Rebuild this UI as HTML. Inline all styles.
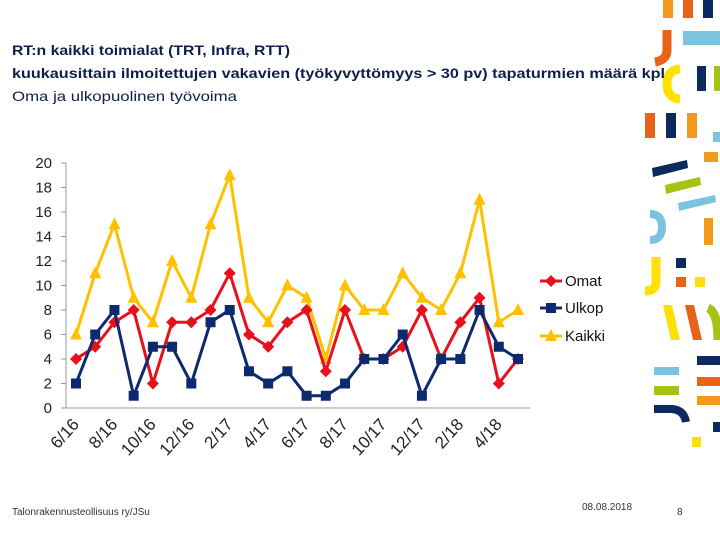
<!DOCTYPE html>
<html><head><meta charset="utf-8"><style>
body{margin:0;width:720px;height:540px;overflow:hidden;background:#fff;font-family:"Liberation Sans",sans-serif}
</style></head><body>
<svg width="720" height="540" xmlns="http://www.w3.org/2000/svg">
<g>
<rect x="663" y="0" width="10" height="18" fill="#f39a1e"/><rect x="683" y="0" width="10" height="18" fill="#e8631a"/><rect x="703" y="0" width="10" height="18" fill="#0d2a5e"/>
<path d="M667 30 L667 50 Q667 60 655 62" stroke="#e8631a" stroke-width="9" fill="none"/>
<rect x="683" y="31" width="37" height="14" fill="#7cc3e0"/>
<path d="M680 69 Q667 70 667 84 Q667 98 680 99" stroke="#ffe000" stroke-width="9" fill="none"/>
<rect x="697" y="66" width="9" height="25" fill="#0d2a5e"/><rect x="714" y="66" width="6" height="25" fill="#a5c312"/>
<rect x="645" y="113" width="10" height="25" fill="#e8631a"/><rect x="666" y="113" width="10" height="25" fill="#0d2a5e"/><rect x="687" y="113" width="10" height="25" fill="#f39a1e"/><rect x="713" y="132" width="7" height="10" fill="#7cc3e0"/>
<rect x="704" y="152" width="14" height="10" fill="#f39a1e"/>
<polygon points="652,168 687,160 688,168 653,177" fill="#0d2a5e"/>
<polygon points="665,185 700,177 701,185 666,194" fill="#a5c312"/>
<polygon points="678,203 715,195 716,202 679,211" fill="#7cc3e0"/>
<path d="M650 214 Q662 214 662 227 Q662 240 650 240" stroke="#7cc3e0" stroke-width="8" fill="none"/>
<rect x="704" y="218" width="9" height="27" fill="#f39a1e"/>
<path d="M656 257 L656 282 Q656 291 645 291" stroke="#ffe000" stroke-width="9" fill="none"/>
<rect x="676" y="258" width="10" height="10" fill="#0d2a5e"/><rect x="676" y="277" width="10" height="10" fill="#e8631a"/><rect x="695" y="277" width="10" height="10" fill="#ffe000"/>
<polygon points="663,305 672,305 680,340 671,340" fill="#ffe000"/><polygon points="685,305 694,305 702,340 693,340" fill="#e8631a"/>
<path d="M708 308 Q718 312 718 340" stroke="#a5c312" stroke-width="9" fill="none"/>
<rect x="697" y="356" width="23" height="9" fill="#0d2a5e"/><rect x="697" y="377" width="23" height="9" fill="#e8631a"/><rect x="697" y="396" width="23" height="9" fill="#f39a1e"/>
<rect x="654" y="367" width="25" height="8" fill="#7cc3e0"/><rect x="654" y="386" width="25" height="9" fill="#a5c312"/>
<path d="M654 409 L672 409 Q684 410 686 422" stroke="#0d2a5e" stroke-width="8" fill="none"/>
<rect x="713" y="422" width="7" height="10" fill="#0d2a5e"/><rect x="692" y="437" width="9" height="10" fill="#ffe000"/>
</g>
<g fill="#0d1f4a" font-size="14">
<text x="12" y="55" font-weight="bold" textLength="278" lengthAdjust="spacingAndGlyphs">RT:n kaikki toimialat (TRT, Infra, RTT)</text>
<text x="12" y="78" font-weight="bold" textLength="653" lengthAdjust="spacingAndGlyphs">kuukausittain ilmoitettujen vakavien  (työkyvyttömyys  &gt; 30 pv) tapaturmien määrä kpl</text>
<text x="12" y="101" textLength="225" lengthAdjust="spacingAndGlyphs">Oma ja ulkopuolinen työvoima</text>
</g>
<g id="chart"></g>
<text x="12" y="515" font-size="10" fill="#333">Talonrakennusteollisuus ry/JSu</text>
<text x="582" y="510" font-size="10" fill="#333">08.08.2018</text>
<text x="677" y="515" font-size="10" fill="#333">8</text>
</svg>
<script>
const months=["6/16","7/16","8/16","9/16","10/16","11/16","12/16","1/17","2/17","3/17","4/17","5/17","6/17","7/17","8/17","9/17","10/17","11/17","12/17","1/18","2/18","3/18","4/18","5/18"];
const omat=[4,5,7,8,2,7,7,8,11,6,5,7,8,3,8,4,4,5,8,4,7,9,2,4];
const ulkop=[2,6,8,1,5,5,2,7,8,3,2,3,1,1,2,4,4,6,1,4,4,8,5,4];
const kaikki=[6,11,15,9,7,12,9,15,19,9,7,10,9,4,10,8,8,11,9,8,11,17,7,8];
const yTicks=[0,2,4,6,8,10,12,14,16,18,20];
const NS="http://www.w3.org/2000/svg";
const g=document.getElementById('chart');
const x0=76,dx=(518-76)/23,y0=408,ky=(408-163)/20;
const X=i=>x0+i*dx, Y=v=>y0-v*ky;
function el(t,a,p){const e=document.createElementNS(NS,t);for(const k in a)e.setAttribute(k,a[k]);(p||g).appendChild(e);return e;}
const ax=el('line',{x1:66,y1:163,x2:66,y2:408,stroke:'#999'});


const bx=el('line',{x1:66,y1:408,x2:530,y2:408,stroke:'#999'});


yTicks.forEach(v=>{
 const l=el('line',{x1:61,y1:Y(v),x2:66,y2:Y(v),stroke:'#999'});
 
 
 const t=el('text',{x:52,y:Y(v)+5,'text-anchor':'end','font-size':15,fill:'#222'});
 t.textContent=v;
 
 
});
months.forEach((m,i)=>{
 if(i%2)return;
 const t=el('text',{'text-anchor':'end','font-size':17,fill:'#222',transform:`translate(${X(i)+4},${y0+17}) rotate(-48)`});
 t.textContent=m;
 
 
});
const series=[[kaikki,'#ffc000','tri','kaikki'],[omat,'#e8101a','dia','omat'],[ulkop,'#0d2a6e','sq','ulkop']];
function marker(type,cx,cy,col,parent){
 let e;
 if(type==='sq')e=el('rect',{x:cx-5,y:cy-5,width:10,height:10,fill:col},parent);
 else if(type==='dia')e=el('polygon',{points:`${cx},${cy-6} ${cx+6},${cy} ${cx},${cy+6} ${cx-6},${cy}`,fill:col},parent);
 else e=el('polygon',{points:`${cx},${cy-7} ${cx+6},${cy+5} ${cx-6},${cy+5}`,fill:col},parent);
 return e;
}
series.forEach(([d,col,mk,nm])=>{
 const sg=el('g',{});
 
 
 const p=el('polyline',{points:d.map((v,i)=>X(i)+','+Y(v)).join(' '),fill:'none',stroke:col,'stroke-width':3},sg);
 
 
 d.forEach((v,i)=>{const m=marker(mk,X(i),Y(v),col,sg);
  
  });
});
const leg=[['Omat','#e8101a','dia',281],['Ulkop','#0d2a6e','sq',308],['Kaikki','#ffc000','tri',336]];
leg.forEach(([n,c,mk,y])=>{
 const lg=el('g',{});
 
 
 el('line',{x1:540,y1:y,x2:562,y2:y,stroke:c,'stroke-width':3},lg);
 marker(mk,551,y,c,lg);
 const t=el('text',{x:565,y:y+5,'font-size':15,fill:'#111'},lg);
 t.textContent=n;
});
</script>
</body></html>
